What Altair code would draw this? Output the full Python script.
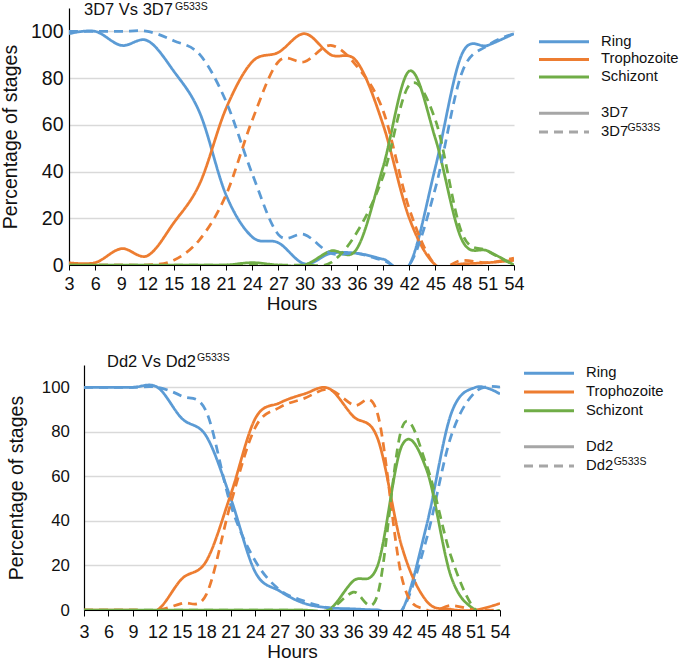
import altair as alt
import pandas as pd

FONT = "Liberation Sans"
TEXT = "#111111"

hours = [3, 6, 9, 12, 15, 18, 21, 24, 27, 30, 33, 36, 39, 42, 45, 48, 51, 54]
stages = ["Ring", "Trophozoite", "Schizont"]
stage_colors = ["#5b9bd5", "#ed7d31", "#70ad47"]
y_ticks = [0, 20, 40, 60, 80, 100]

# 3D7 vs 3D7 G533S (percentage of parasites in each stage)
ring_3d7 = [99, 100, 94, 96, 83, 65, 30, 12, 9.5, 0.5, 5, 5, 2.5, 0, 42, 90, 94, 99]
troph_3d7 = [1, 1, 7, 4, 18, 35, 67, 87, 91, 99, 90, 87, 60, 20, 0, 0.5, 1, 2]
schiz_3d7 = [0, 0, 0, 0, 0, 0, 0, 1, 0, 0, 6, 7, 42, 83, 54, 11, 6, 0]
ring_3d7m = [100, 100, 100, 100, 96, 90, 70, 39, 13, 13, 5, 5, 2, 0, 33, 82, 94, 99]
troph_3d7m = [0, 0, 0, 0, 2, 11, 30, 62, 87, 87, 94, 85, 66, 24, 0, 2, 1, 3]
schiz_3d7m = [0, 0, 0, 0, 0, 0, 0, 0, 0, 0, 1, 14, 38, 77, 62, 14, 6, 0]

# Dd2 vs Dd2 G533S
ring_dd2 = [100, 100, 100, 100, 86, 78, 50, 17, 8.5, 3, 1, 0.5, 0, 0, 38, 88, 100, 97]
troph_dd2 = [0, 0, 0, 0, 14, 22, 52, 86, 93, 97, 99.5, 87, 77, 28, 4, 0.3, 0, 3]
schiz_dd2 = [0, 0, 0, 0, 0, 0, 0, 0, 0, 0, 0, 13, 20, 74, 63, 15, 0, 0]
ring_dd2m = [100, 100, 100, 100, 96, 89, 47, 22, 9, 4, 1, 0, 0, 0, 32, 78, 98, 100]
troph_dd2m = [0, 0, 0, 0, 3, 7, 48, 82, 91, 95, 99, 92, 88, 14, 0, 2, 0, 0]
schiz_dd2m = [0, 0, 0, 0, 0, 0, 0, 0, 0, 0, 0, 8, 7, 82, 65, 24, 0, 0]


def long_table(strains, series):
    rows = []
    for strain, values in zip(strains, series):
        for stage, vals in zip(stages, values):
            for h, v in zip(hours, vals):
                rows.append({"hour": h, "pct": v, "stage": stage, "strain": strain})
    return pd.DataFrame(rows)


def one_row(label):
    return alt.Data(values=[{"label": label}])


def panel(df, strains, cfg):
    w, h, shift = cfg["w"], cfg["h"], cfg["shift"]
    lines = alt.Chart(df).mark_line(
        interpolate="cardinal", tension=0, strokeWidth=2.75, clip=True
    ).encode(
        x=alt.X("hour:Q",
                scale=alt.Scale(domain=[3, 54], nice=False, zero=False, range=[shift, w]),
                axis=alt.Axis(values=hours, title="Hours", grid=False,
                              labelFontSize=cfg["xlab"], labelFont=FONT, labelColor=TEXT,
                              titleFontSize=cfg["xtitle"], titleFont=FONT, titleColor=TEXT,
                              titleFontWeight="normal", titleBaseline="alphabetic",
                              titleY=cfg["xtitle_y"],
                              tickSize=cfg["tick"], tickColor="#000000", tickWidth=1,
                              domainColor="#000000", domainWidth=1.2,
                              labelPadding=cfg["xpad"], labelFlush=False,
                              labelOverlap=False)),
        y=alt.Y("pct:Q",
                scale=alt.Scale(domain=[0, 110], nice=False),
                axis=alt.Axis(values=y_ticks, title="Percentage of stages",
                              grid=True, gridColor="#d9d9d9", gridWidth=1.5,
                              ticks=False, domainColor="#000000", domainWidth=1.2,
                              offset=-shift,
                              labelFontSize=cfg["ylab"], labelFont=FONT, labelColor=TEXT,
                              labelPadding=cfg["ypad"],
                              titleFontSize=19.5, titleFont=FONT, titleColor=TEXT,
                              titleFontWeight="normal", titleX=cfg["ytitle_x"], titleY=h / 2,
                              titleBaseline="alphabetic", titleAlign="center", titleAngle=270)),
        color=alt.Color("stage:N", scale=alt.Scale(domain=stages, range=stage_colors), legend=None),
        strokeDash=alt.StrokeDash("strain:N",
                                  scale=alt.Scale(domain=strains, range=[[1, 0], [9, 6]]),
                                  legend=None),
    )

    layers = [lines]

    # panel heading with superscript mutation name
    layers.append(alt.Chart(one_row(cfg["title"])).mark_text(
        align="left", baseline="top", font=FONT, fontSize=16.5, color=TEXT
    ).encode(x=alt.value(cfg["title_x"]), y=alt.value(cfg["title_y"]), text="label:N"))
    layers.append(alt.Chart(one_row("G533S")).mark_text(
        align="left", baseline="top", font=FONT, fontSize=10.5, color=TEXT
    ).encode(x=alt.value(cfg["sup_x"]), y=alt.value(cfg["sup_y"]), text="label:N"))

    # legend: stage colours, then strain line styles
    entries = [(s, None, c, None) for s, c in zip(stages, stage_colors)]
    entries += [(strains[0], None, "#a6a6a6", None),
                (strains[0], "G533S", "#a6a6a6", [9, 6])]
    x0, x1, xt = cfg["leg_x"]
    for (label, sup, color, dash), yy in zip(entries, cfg["leg_rows"]):
        rule_kw = dict(color=color, strokeWidth=3)
        if dash:
            rule_kw["strokeDash"] = dash
        layers.append(alt.Chart(one_row(label)).mark_rule(**rule_kw).encode(
            x=alt.value(x0), x2=alt.value(x1), y=alt.value(yy)))
        layers.append(alt.Chart(one_row(label)).mark_text(
            align="left", baseline="middle", font=FONT, fontSize=14.8, color=TEXT
        ).encode(x=alt.value(xt), y=alt.value(yy), text="label:N"))
        if sup:
            layers.append(alt.Chart(one_row(sup)).mark_text(
                align="left", baseline="alphabetic", font=FONT, fontSize=10.5, color=TEXT
            ).encode(x=alt.value(xt + cfg["leg_sup_dx"]), y=alt.value(yy - 1.5), text="label:N"))

    # fixed outer extent of the panel
    top_ext, bottom_ext = cfg["extent"]
    layers.append(alt.Chart(one_row("frame")).mark_rule(opacity=0).encode(
        x=alt.value(-68), y=alt.value(-top_ext), y2=alt.value(h + bottom_ext)))

    return alt.layer(*layers).properties(width=w, height=h)


df_3d7 = long_table(["3D7", "3D7 G533S"],
                    [[ring_3d7, troph_3d7, schiz_3d7], [ring_3d7m, troph_3d7m, schiz_3d7m]])
df_dd2 = long_table(["Dd2", "Dd2 G533S"],
                    [[ring_dd2, troph_dd2, schiz_dd2], [ring_dd2m, troph_dd2m, schiz_dd2m]])

top = panel(df_3d7, ["3D7", "3D7 G533S"], dict(
    w=445, h=257, shift=0, xlab=18, xtitle=19, xtitle_y=44.5, tick=5, xpad=5.5,
    ylab=19.5, ypad=6, ytitle_x=-52.4,
    title="3D7 Vs 3D7", title_x=15, title_y=-5.9, sup_x=106, sup_y=-6.1,
    leg_x=(470, 520, 532), leg_rows=[33.7, 51.4, 69.1, 105.3, 124], leg_sup_dx=26.5,
    extent=(8, 50)))
bottom = panel(df_dd2, ["Dd2", "Dd2 G533S"], dict(
    w=431, h=245, shift=15, xlab=18, xtitle=19, xtitle_y=47, tick=6, xpad=7.0,
    ylab=16.8, ypad=14.7, ytitle_x=-61.5,
    title="Dd2 Vs Dd2", title_x=38, title_y=-11.2, sup_x=128, sup_y=-11.8,
    leg_x=(455, 505, 517), leg_rows=[8.3, 27, 45.7, 81.7, 101], leg_sup_dx=27.7,
    extent=(50, 50)))

chart = alt.ConcatChart(
    concat=[top, bottom], columns=1, spacing=0, bounds="full"
).properties(
    padding=0, background="white"
).configure_view(stroke=None)

chart.save("out.html", embed_options={"renderer": "svg", "actions": False})
